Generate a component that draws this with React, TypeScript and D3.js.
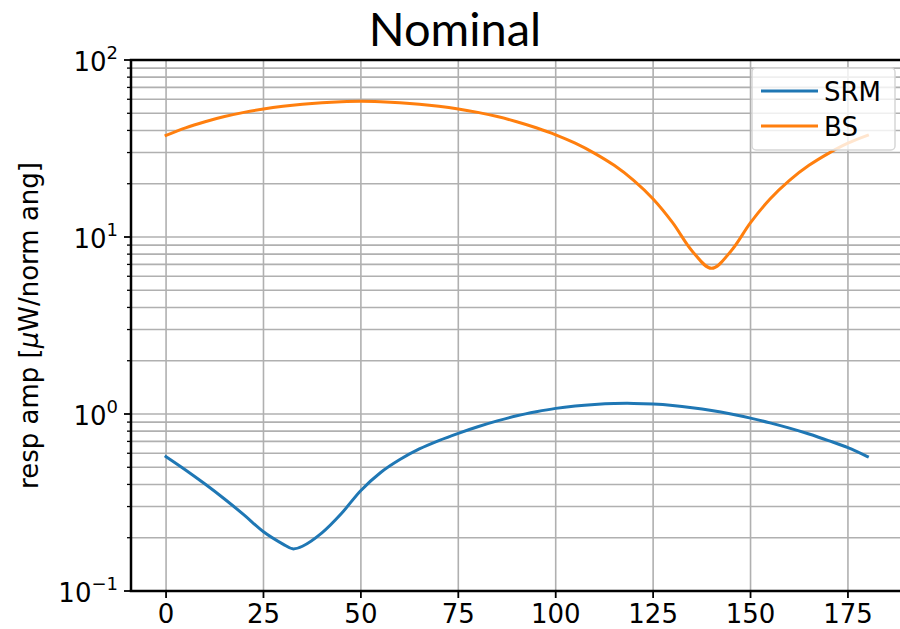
import React from 'react'
import * as d3 from 'd3'

// angle samples (deg) and the two response amplitudes
const angles = [0, 5, 10, 15, 20, 25, 30, 35, 40, 45, 50, 55, 60, 65, 70, 75, 80, 85, 90, 95, 100, 105, 110, 115, 120, 125, 130, 135, 140, 145, 150, 155, 160, 165, 170, 175, 180]
const bsValues = [37.5, 41.4, 44.8, 47.9, 50.6, 52.9, 54.8, 56.3, 57.4, 58.1, 58.4, 58.1, 57.4, 56.3, 54.8, 52.9, 50.6, 47.9, 44.8, 41.4, 37.8, 33.9, 29.7, 25.4, 20.9, 16.4, 12.05, 8.34, 6.65, 8.34, 12.05, 16.4, 20.9, 25.4, 29.7, 33.9, 37.5]

const srmAngles = [0, 5, 10, 15, 20, 25, 30, 32.5, 35, 40, 45, 50, 55, 60, 65, 70, 75, 80, 85, 90, 95, 100, 105, 110, 115, 120, 125, 130, 135, 140, 145, 150, 155, 160, 165, 170, 175, 180]
const srmValues = [0.574, 0.483, 0.402, 0.331, 0.269, 0.216, 0.184, 0.173, 0.179, 0.213, 0.274, 0.37, 0.466, 0.553, 0.635, 0.708, 0.778, 0.847, 0.914, 0.977, 1.03, 1.076, 1.109, 1.132, 1.146, 1.148, 1.138, 1.117, 1.086, 1.047, 1.0, 0.948, 0.891, 0.832, 0.771, 0.708, 0.646, 0.575]

const xTicks = [0, 25, 50, 75, 100, 125, 150, 175]
const yMajor = [0.1, 1, 10, 100]
const yExponents = ['\u22121', '0', '1', '2']

const series = [
  { name: 'SRM', color: '#1f77b4', xs: srmAngles, ys: srmValues },
  { name: 'BS', color: '#ff7f0e', xs: angles, ys: bsValues },
]

const W = 900
const H = 629
const left = 131
const right = 902.5
const top = 60
const bottom = 591

export default function App() {
  const x = d3.scaleLinear().domain([-9, 189]).range([left, right])
  const y = d3.scaleLog().domain([0.1, 100]).range([bottom, top])

  const yMinor: number[] = []
  for (let k = -1; k < 2; k++) {
    for (let m = 2; m < 10; m++) yMinor.push(m * Math.pow(10, k))
  }

  const line = d3
    .line<[number, number]>()
    .x((d) => x(d[0]))
    .y((d) => y(d[1]))
    .curve(d3.curveCatmullRom.alpha(0.5))

  const font = 'DejaVu Sans, sans-serif'
  const grid = '#b0b0b0'

  return (
    <div style={{ position: 'absolute', left: 0, top: 0 }}>
      <svg width={W} height={H} style={{ display: 'block', background: '#fff' }}>
        <defs>
          <clipPath id="plot">
            <rect x={left} y={top} width={right - left} height={bottom - top} />
          </clipPath>
        </defs>

        {/* grid */}
        <g stroke={grid} strokeWidth={1.6}>
          {xTicks.map((t) => (
            <line key={'gx' + t} x1={x(t)} x2={x(t)} y1={top} y2={bottom} />
          ))}
          {yMajor.concat(yMinor).map((t) => (
            <line key={'gy' + t} x1={left} x2={right} y1={y(t)} y2={y(t)} />
          ))}
        </g>

        {/* curves */}
        <g clipPath="url(#plot)" fill="none" strokeWidth={3}>
          {series.map((s) => (
            <path
              key={s.name}
              d={line(s.xs.map((a, i) => [a, s.ys[i]] as [number, number])) ?? ''}
              stroke={s.color}
              strokeLinejoin="round"
              strokeLinecap="square"
            />
          ))}
        </g>

        {/* spines */}
        <g stroke="#000" strokeWidth={2.5} fill="none">
          <line x1={left} x2={left} y1={top} y2={bottom} />
          <line x1={left - 1.25} x2={right} y1={bottom} y2={bottom} />
          <line x1={left - 1.25} x2={right} y1={top} y2={top} />
          <line x1={right} x2={right} y1={top} y2={bottom} />
        </g>

        {/* x ticks */}
        <g fontFamily={font} fontSize={26} fill="#000" textAnchor="middle">
          {xTicks.map((t) => (
            <g key={'xt' + t}>
              <line x1={x(t)} x2={x(t)} y1={bottom} y2={bottom + 7} stroke="#000" strokeWidth={1.8} />
              <text x={x(t)} y={623}>{t}</text>
            </g>
          ))}
        </g>

        {/* y ticks */}
        <g fontFamily={font} fill="#000">
          {yMinor.map((t) => (
            <line key={'ym' + t} x1={left - 4} x2={left} y1={y(t)} y2={y(t)} stroke="#000" strokeWidth={1.3} />
          ))}
          {yMajor.map((t, i) => (
            <g key={'yt' + t}>
              <line x1={left - 7} x2={left} y1={y(t)} y2={y(t)} stroke="#000" strokeWidth={1.8} />
              <text x={118} y={y(t) + 11} textAnchor="end" fontSize={26}>
                10
                <tspan fontSize={18} dy={-12}>{yExponents[i]}</tspan>
              </text>
            </g>
          ))}
        </g>

        {/* y label */}
        <text
          transform={`translate(38,${(top + bottom) / 2}) rotate(-90)`}
          textAnchor="middle"
          fontFamily={font}
          fontSize={26}
          fill="#000"
        >
          resp amp [<tspan fontStyle="italic">μ</tspan>W/norm ang]
        </text>

        {/* title */}
        <text x={455} y={46} textAnchor="middle" fontFamily="Lato, 'Open Sans', sans-serif" fontSize={47} fill="#000">
          Nominal
        </text>

        {/* legend */}
        <g>
          <rect x={752} y={68} width={143} height={82} rx={4} fill="#fff" fillOpacity={0.8} stroke="#d6d6d6" strokeWidth={1.5} />
          {series.map((s, i) => (
            <g key={'lg' + s.name}>
              <line x1={761} x2={818} y1={91 + i * 35} y2={91 + i * 35} stroke={s.color} strokeWidth={3} />
              <text x={824} y={91 + i * 35 + 10} fontFamily={font} fontSize={26} fill="#000">
                {s.name}
              </text>
            </g>
          ))}
        </g>
      </svg>
    </div>
  )
}
